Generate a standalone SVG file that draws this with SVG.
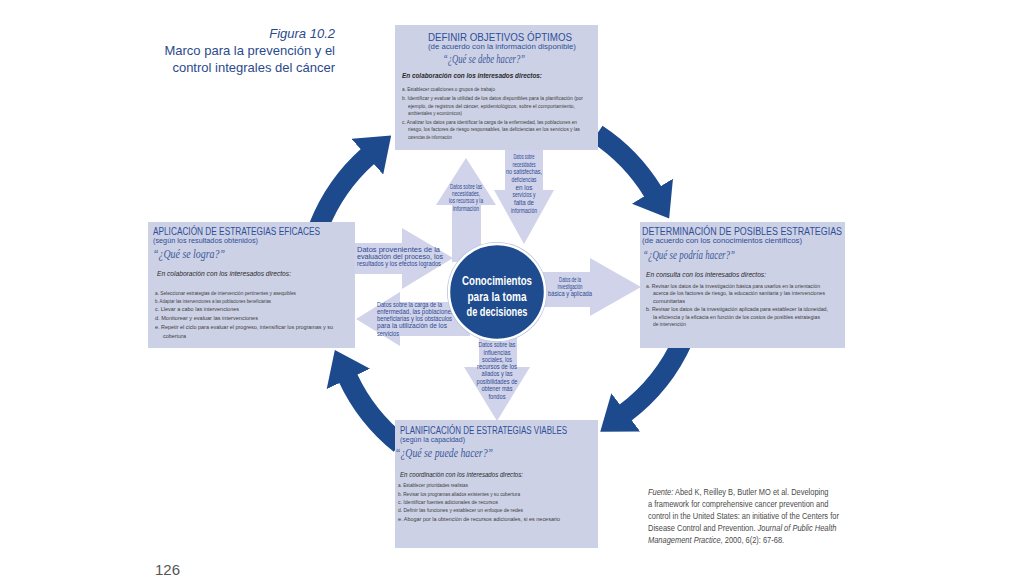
<svg xmlns="http://www.w3.org/2000/svg" width="1024" height="576" viewBox="0 0 1024 576">
<defs>
<marker id="ah" markerUnits="userSpaceOnUse" markerWidth="32" markerHeight="48" viewBox="0 0 32 48" refX="1" refY="24" orient="auto"><path d="M0,0 L32,24 L0,48 Z" fill="#1d4a8c"/></marker>
</defs>
<style>
.box{fill:#cdd1e6}
.la{fill:#d0d3e9}
.ring{fill:none;stroke:#1d4a8c;stroke-width:20;marker-end:url(#ah)}
text{font-family:'Liberation Sans',Arial,sans-serif}
.hd{fill:#2e4f98;font-size:10px}
.sb{fill:#2e4f98;font-size:7.5px}
.q{font-family:'Liberation Serif','Times New Roman',serif;font-style:italic;fill:#3b5a9a;font-size:12px}
.in{font-style:italic;fill:#2a2a2a;font-size:7px}
.it{fill:#404040;font-size:5.6px}
.lb{fill:#2d4b93;font-size:6.6px}
.ct{font-weight:bold;fill:#ffffff;font-size:13px}
.ti{fill:#2b4a8c;font-size:13px}
.src{fill:#4a4a4a;font-size:9px}
.em{font-style:italic}
</style>
<rect width="1024" height="576" fill="#ffffff"/>
<g id="title">
<text class="ti" x="335" y="38" text-anchor="end" font-style="italic">Figura 10.2</text>
<text class="ti" x="335" y="55" text-anchor="end">Marco para la prevención y el</text>
<text class="ti" x="335" y="72" text-anchor="end">control integrales del cáncer</text>
</g>
<g id="connectors">
<path class="ring" d="M319,226 A185,185 0 0 1 368,156"/>
<path class="ring" d="M597,134 A185,185 0 0 1 653,192"/>
<path class="ring" d="M683,340 A185,185 0 0 1 625,413"/>
<path class="ring" d="M400,444 A185,185 0 0 1 348,378"/>
<polygon class="la" points="452,262 452,205 436,205 466,158 496,205 481,205 481,262"/>
<polygon class="la" points="505,148 543,148 543,190 554,190 524,244 494,190 505,190"/>
<polygon class="la" points="354,243 402,243 402,228 453,258 402,289 402,274 354,274"/>
<polygon class="la" points="470,302 400,302 400,292 356,319 400,346 400,336 470,336"/>
<polygon class="la" points="530,272 590,272 590,258 641,287 590,316 590,307 530,307"/>
<polygon class="la" points="479,325 517,325 517,367 530,367 497,421 464,367 479,367"/>
<g class="lb">
<text class="lb" x="450" y="189" textLength="32" lengthAdjust="spacingAndGlyphs">Datos sobre las</text>
<text class="lb" x="452" y="196" textLength="28" lengthAdjust="spacingAndGlyphs">necesidades,</text>
<text class="lb" x="449" y="203" textLength="34" lengthAdjust="spacingAndGlyphs">los recursos y la</text>
<text class="lb" x="453" y="210.5" textLength="26" lengthAdjust="spacingAndGlyphs">información</text>
<text class="lb" x="513.5" y="159" textLength="21" lengthAdjust="spacingAndGlyphs">Datos sobre</text>
<text class="lb" x="512.5" y="167" textLength="23" lengthAdjust="spacingAndGlyphs">necesidades</text>
<text class="lb" x="506" y="174" textLength="36" lengthAdjust="spacingAndGlyphs">no satisfechas,</text>
<text class="lb" x="511.5" y="182" textLength="25" lengthAdjust="spacingAndGlyphs">deficiencias</text>
<text class="lb" x="515.5" y="189.5" textLength="17" lengthAdjust="spacingAndGlyphs">en los</text>
<text class="lb" x="512.5" y="197" textLength="23" lengthAdjust="spacingAndGlyphs">servicios y</text>
<text class="lb" x="514" y="205" textLength="20" lengthAdjust="spacingAndGlyphs">falta de</text>
<text class="lb" x="511" y="213" textLength="26" lengthAdjust="spacingAndGlyphs">información</text>
<text class="lb" x="357" y="251.5" textLength="83" lengthAdjust="spacingAndGlyphs">Datos provenientes de la</text>
<text class="lb" x="357" y="258.5" textLength="86" lengthAdjust="spacingAndGlyphs">evaluación del proceso, los</text>
<text class="lb" x="357" y="265.5" textLength="84" lengthAdjust="spacingAndGlyphs">resultados y los efectos logrados</text>
<text class="lb" x="377" y="307" textLength="65" lengthAdjust="spacingAndGlyphs">Datos sobre la carga de la</text>
<text class="lb" x="377" y="314" textLength="77" lengthAdjust="spacingAndGlyphs">enfermedad, las poblaciones</text>
<text class="lb" x="377" y="321" textLength="75" lengthAdjust="spacingAndGlyphs">beneficiarias y los obstáculos</text>
<text class="lb" x="377" y="328" textLength="70" lengthAdjust="spacingAndGlyphs">para la utilización de los</text>
<text class="lb" x="377" y="335.5" textLength="22" lengthAdjust="spacingAndGlyphs">servicios</text>
<text class="lb" x="559" y="282" textLength="22" lengthAdjust="spacingAndGlyphs">Datos de la</text>
<text class="lb" x="557.5" y="289" textLength="25" lengthAdjust="spacingAndGlyphs">investigación</text>
<text class="lb" x="548" y="296" textLength="44" lengthAdjust="spacingAndGlyphs">básica y aplicada</text>
<text class="lb" x="478.5" y="347" textLength="37" lengthAdjust="spacingAndGlyphs">Datos sobre las</text>
<text class="lb" x="483.5" y="355" textLength="27" lengthAdjust="spacingAndGlyphs">influencias</text>
<text class="lb" x="482" y="361.5" textLength="30" lengthAdjust="spacingAndGlyphs">sociales, los</text>
<text class="lb" x="477" y="369" textLength="40" lengthAdjust="spacingAndGlyphs">recursos de los</text>
<text class="lb" x="481.5" y="376" textLength="31" lengthAdjust="spacingAndGlyphs">aliados y las</text>
<text class="lb" x="476.5" y="384" textLength="41" lengthAdjust="spacingAndGlyphs">posibilidades de</text>
<text class="lb" x="481.5" y="391" textLength="31" lengthAdjust="spacingAndGlyphs">obtener más</text>
<text class="lb" x="488.5" y="398.5" textLength="17" lengthAdjust="spacingAndGlyphs">fondos</text>
</g>
</g>
<g id="n-center">
<circle cx="497" cy="292" r="50" fill="#b8c2dd"/>
<circle cx="497" cy="292" r="48" fill="#1e4c8e" stroke="#ffffff" stroke-width="2.5"/>
<text class="ct" x="462" y="285" textLength="70" lengthAdjust="spacingAndGlyphs">Conocimientos</text>
<text class="ct" x="467.5" y="300.5" textLength="59" lengthAdjust="spacingAndGlyphs">para la toma</text>
<text class="ct" x="466.5" y="316" textLength="61" lengthAdjust="spacingAndGlyphs">de decisiones</text>
</g>
<g id="n-definir">
<rect class="box" x="395" y="25" width="203" height="125"/>
<text class="hd" x="428" y="40.5" textLength="144" lengthAdjust="spacingAndGlyphs">DEFINIR OBJETIVOS ÓPTIMOS</text>
<text class="sb" x="428" y="48.5" textLength="148" lengthAdjust="spacingAndGlyphs">(de acuerdo con la información disponible)</text>
<text class="q" x="443" y="63" textLength="82" lengthAdjust="spacingAndGlyphs">“¿Qué se debe hacer?”</text>
<text class="in" x="402" y="78" font-weight="bold" textLength="140" lengthAdjust="spacingAndGlyphs">En colaboración con los interesados directos:</text>
<text class="it" x="402" y="91" textLength="93" lengthAdjust="spacingAndGlyphs">a. Establecer coaliciones o grupos de trabajo</text>
<text class="it" x="402" y="100" textLength="181" lengthAdjust="spacingAndGlyphs">b. Identificar y evaluar la utilidad de los datos disponibles para la planificación (por</text>
<text class="it" x="408" y="107.5" textLength="167" lengthAdjust="spacingAndGlyphs">ejemplo, de registros del cáncer, epidemiológicos, sobre el comportamiento,</text>
<text class="it" x="408" y="115" textLength="54" lengthAdjust="spacingAndGlyphs">ambientales y económicos)</text>
<text class="it" x="402" y="123.5" textLength="175" lengthAdjust="spacingAndGlyphs">c. Analizar los datos para identificar la carga de la enfermedad, las poblaciones en</text>
<text class="it" x="408" y="131" textLength="172" lengthAdjust="spacingAndGlyphs">riesgo, los factores de riesgo responsables, las deficiencias en los servicios y las</text>
<text class="it" x="408" y="138.5" textLength="44" lengthAdjust="spacingAndGlyphs">carencias de información</text>
</g>
<g id="n-aplicacion">
<rect class="box" x="148" y="222" width="207" height="126"/>
<text class="hd" x="153" y="234.5" textLength="167" lengthAdjust="spacingAndGlyphs">APLICACIÓN DE ESTRATEGIAS EFICACES</text>
<text class="sb" x="153" y="242.5" textLength="105" lengthAdjust="spacingAndGlyphs">(según los resultados obtenidos)</text>
<text class="q" x="153" y="258" textLength="72" lengthAdjust="spacingAndGlyphs">“¿Qué se logra?”</text>
<text class="in" x="157" y="275.5" textLength="134" lengthAdjust="spacingAndGlyphs">En colaboración con los interesados directos:</text>
<text class="it" x="155" y="294.5" textLength="141" lengthAdjust="spacingAndGlyphs">a. Seleccionar estrategias de intervención pertinentes y asequibles</text>
<text class="it" x="155" y="302.5" textLength="116" lengthAdjust="spacingAndGlyphs">b. Adaptar las intervenciones a las poblaciones beneficiarias</text>
<text class="it" x="155" y="311" textLength="84" lengthAdjust="spacingAndGlyphs">c. Llevar a cabo las intervenciones</text>
<text class="it" x="155" y="320" textLength="103" lengthAdjust="spacingAndGlyphs">d. Monitorear y evaluar las intervenciones</text>
<text class="it" x="155" y="329" textLength="178" lengthAdjust="spacingAndGlyphs">e. Repetir el ciclo para evaluar el progreso, intensificar los programas y su</text>
<text class="it" x="163" y="338" textLength="23" lengthAdjust="spacingAndGlyphs">cobertura</text>
</g>
<g id="n-determinacion">
<rect class="box" x="640" y="222" width="205" height="126"/>
<text class="hd" x="642" y="234.5" textLength="200" lengthAdjust="spacingAndGlyphs">DETERMINACIÓN DE POSIBLES ESTRATEGIAS</text>
<text class="sb" x="642" y="242.5" textLength="160" lengthAdjust="spacingAndGlyphs">(de acuerdo con los conocimientos científicos)</text>
<text class="q" x="643" y="259" textLength="92" lengthAdjust="spacingAndGlyphs">“¿Qué se podría hacer?”</text>
<text class="in" x="646" y="276.5" textLength="120" lengthAdjust="spacingAndGlyphs">En consulta con los interesados directos:</text>
<text class="it" x="646" y="287.5" textLength="174" lengthAdjust="spacingAndGlyphs">a. Revisar los datos de la investigación básica para usarlos en la orientación</text>
<text class="it" x="653" y="295" textLength="172" lengthAdjust="spacingAndGlyphs">acerca de los factores de riesgo, la educación sanitaria y las intervenciones</text>
<text class="it" x="653" y="303" textLength="32" lengthAdjust="spacingAndGlyphs">comunitarias</text>
<text class="it" x="646" y="310.5" textLength="182" lengthAdjust="spacingAndGlyphs">b. Revisar los datos de la investigación aplicada para establecer la idoneidad,</text>
<text class="it" x="653" y="318.5" textLength="167" lengthAdjust="spacingAndGlyphs">la eficiencia y la eficacia en función de los costos de posibles estrategias</text>
<text class="it" x="653" y="326" textLength="33" lengthAdjust="spacingAndGlyphs">de intervención</text>
</g>
<g id="n-planificacion">
<rect class="box" x="395" y="420" width="203" height="128"/>
<text class="hd" x="400" y="433.5" textLength="167" lengthAdjust="spacingAndGlyphs">PLANIFICACIÓN DE ESTRATEGIAS VIABLES</text>
<text class="sb" x="400" y="441.5" textLength="65" lengthAdjust="spacingAndGlyphs">(según la capacidad)</text>
<text class="q" x="395" y="457" textLength="98" lengthAdjust="spacingAndGlyphs">“¿Qué se puede hacer?”</text>
<text class="in" x="400" y="477" textLength="123" lengthAdjust="spacingAndGlyphs">En coordinación con los interesados directos:</text>
<text class="it" x="398" y="487" textLength="70" lengthAdjust="spacingAndGlyphs">a. Establecer prioridades realistas</text>
<text class="it" x="398" y="495.5" textLength="122" lengthAdjust="spacingAndGlyphs">b. Revisar los programas aliados existentes y su cobertura</text>
<text class="it" x="398" y="504" textLength="100" lengthAdjust="spacingAndGlyphs">c. Identificar fuentes adicionales de recursos</text>
<text class="it" x="398" y="512" textLength="125" lengthAdjust="spacingAndGlyphs">d. Definir las funciones y establecer un enfoque de redes</text>
<text class="it" x="398" y="520.5" textLength="162" lengthAdjust="spacingAndGlyphs">e. Abogar por la obtención de recursos adicionales, si es necesario</text>
</g>
<g id="source" transform="translate(648,0) scale(0.83,1)">
<text class="src" x="0" y="495"><tspan class="em">Fuente:</tspan> Abed K, Reilley B, Butler MO et al. Developing</text>
<text class="src" x="0" y="507">a framework for comprehensive cancer prevention and</text>
<text class="src" x="0" y="519">control in the United States: an initiative of the Centers for</text>
<text class="src" x="0" y="531">Disease Control and Prevention. <tspan class="em">Journal of Public Health</tspan></text>
<text class="src" x="0" y="543"><tspan class="em">Management Practice</tspan>, 2000, 6(2): 67-68.</text>
</g>
<text x="155" y="575" font-family="'Liberation Serif','Times New Roman',serif" font-size="15" fill="#555555">126</text>
</svg>
